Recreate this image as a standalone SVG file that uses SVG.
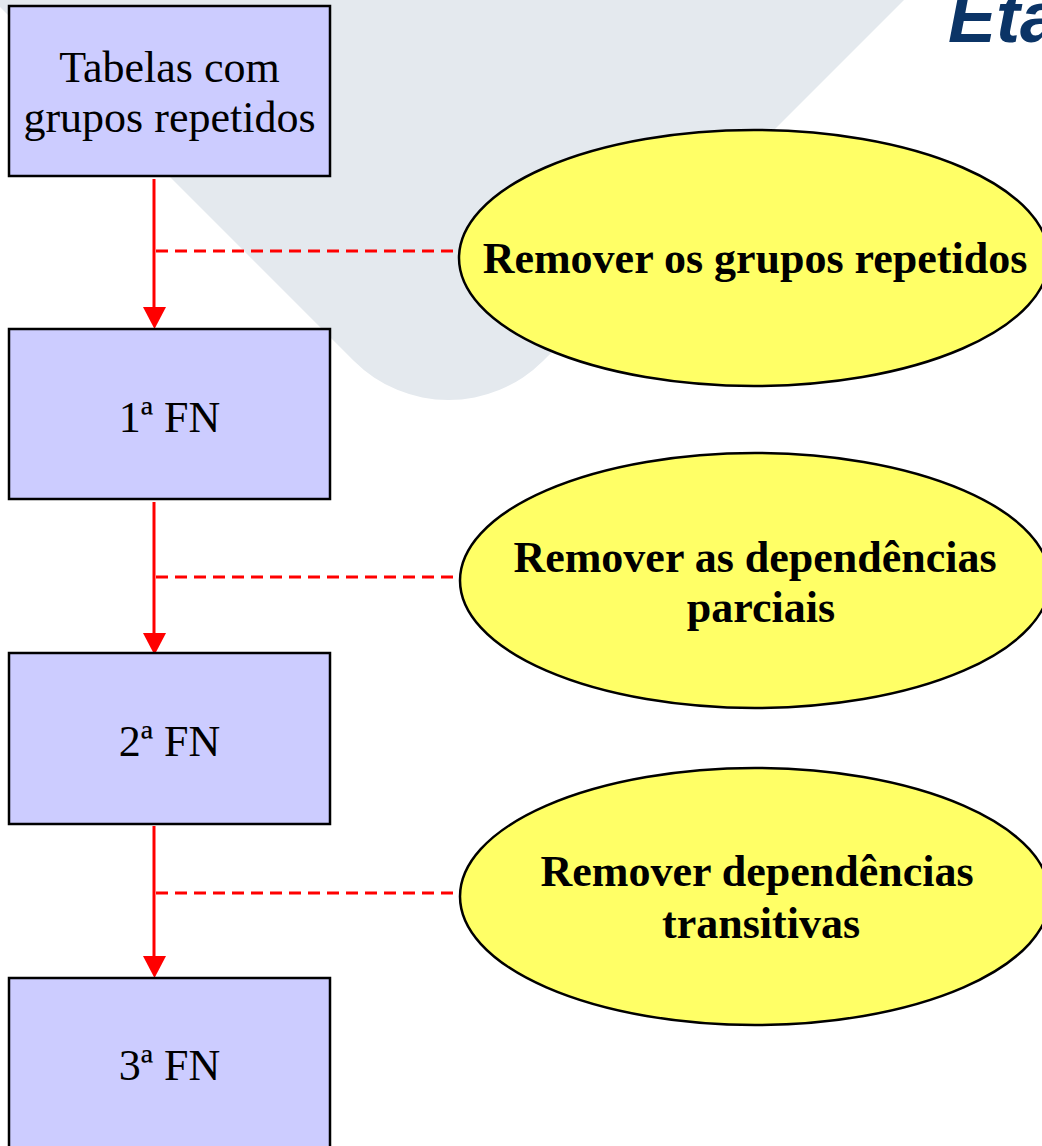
<svg xmlns="http://www.w3.org/2000/svg" width="1042" height="1146" viewBox="0 0 1042 1146">
  <style>
    .box { fill: #ccccff; stroke: #000; stroke-width: 2.5; }
    .ell { fill: #ffff66; stroke: #000; stroke-width: 2.5; }
    .bt { font-family: "Liberation Serif", "Times New Roman", serif; font-size: 44px; fill: #000; text-anchor: middle; }
    .et { font-family: "Liberation Serif", "Times New Roman", serif; font-size: 44px; font-weight: bold; fill: #000; text-anchor: middle; }
    .flow { stroke: #ff0000; stroke-width: 3; fill: none; }
    .dash { stroke: #ff0000; stroke-width: 3.2; fill: none; stroke-dasharray: 12 7; }
    .head { fill: #ff0000; }
    .title { font-family: "Liberation Sans", Arial, sans-serif; font-size: 72px; font-weight: bold; font-style: italic; fill: #0b3466; }
  </style>
  <rect width="1042" height="1146" fill="#ffffff"/>
  <path d="M -7 0 L 904 0 L 543.3 360.7 A 134 134 0 0 1 353.7 360.7 Z" fill="#e4e9ee"/>
  <text class="title" x="948" y="42">Eta</text>

  <g id="connectors">
    <line class="dash" x1="156" y1="251" x2="459" y2="251"/>
    <line class="dash" x1="156" y1="577" x2="460" y2="577"/>
    <line class="dash" x1="156" y1="893" x2="460" y2="893"/>
    <line class="flow" x1="154" y1="179" x2="154" y2="310"/>
    <polygon class="head" points="143,307 166,307 154.5,329"/>
    <line class="flow" x1="154" y1="502" x2="154" y2="636"/>
    <polygon class="head" points="143,633 166,633 154.5,655"/>
    <line class="flow" x1="154" y1="826" x2="154" y2="959"/>
    <polygon class="head" points="143,956 166,956 154.5,978"/>
  </g>

  <g id="node-tabelas">
    <rect class="box" x="9" y="6" width="321" height="170"/>
    <text class="bt" x="169.5" y="82">Tabelas com</text>
    <text class="bt" x="169.5" y="132">grupos repetidos</text>
  </g>
  <g id="node-1fn">
    <rect class="box" x="9" y="329" width="321" height="170"/>
    <text class="bt" x="169.5" y="432">1ª FN</text>
  </g>
  <g id="node-2fn">
    <rect class="box" x="9" y="653" width="321" height="171"/>
    <text class="bt" x="169.5" y="756">2ª FN</text>
  </g>
  <g id="node-3fn">
    <rect class="box" x="9" y="978" width="321" height="171"/>
    <text class="bt" x="169.5" y="1080">3ª FN</text>
  </g>

  <g id="step-1">
    <ellipse class="ell" cx="754" cy="258" rx="295" ry="128"/>
    <text class="et" x="755" y="273">Remover os grupos repetidos</text>
  </g>
  <g id="step-2">
    <ellipse class="ell" cx="755" cy="580.5" rx="295" ry="127.5"/>
    <text class="et" x="755" y="572">Remover as dependências</text>
    <text class="et" x="761" y="622">parciais</text>
  </g>
  <g id="step-3">
    <ellipse class="ell" cx="755" cy="896.5" rx="295" ry="128.5"/>
    <text class="et" x="757" y="886">Remover dependências</text>
    <text class="et" x="761" y="938">transitivas</text>
  </g>
</svg>
